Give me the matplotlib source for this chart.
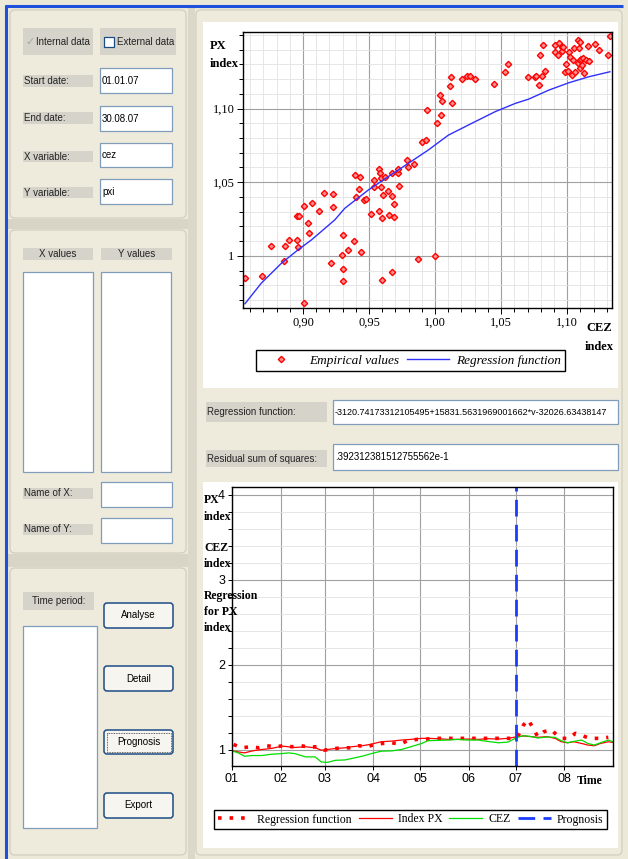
import matplotlib
matplotlib.use("Agg")
import matplotlib.pyplot as plt
from matplotlib.patches import Rectangle, FancyBboxPatch
from matplotlib.ticker import MultipleLocator, FixedLocator

# ---- scatter data (CEZ index vs PX index) ----
cez_emp = [0.856, 0.869, 0.8755, 0.8856, 0.8866, 0.8896, 0.8954, 0.8957, 0.8967, 0.8962,
           0.9005, 0.9005, 0.9038, 0.9043, 0.9066, 0.9121, 0.9159, 0.9215, 0.9225, 0.9230,
           0.9294, 0.9304, 0.9301, 0.9306, 0.9337, 0.9382, 0.9395, 0.9423, 0.9430, 0.9400,
           0.9440, 0.9458, 0.9473, 0.9514, 0.9534, 0.9537, 0.9575, 0.9577, 0.9582, 0.9587,
           0.9590, 0.9595, 0.9597, 0.9602, 0.9620, 0.9645, 0.9648, 0.9670, 0.9673, 0.9676,
           0.9688, 0.9691, 0.9716, 0.9721, 0.9724, 0.9787, 0.9797, 0.9838, 0.9868, 0.9901,
           0.9929, 0.9941, 1.0000, 1.0017, 1.0040, 1.0045, 1.0050, 1.0116, 1.0124, 1.0131,
           1.0202, 1.0240, 1.0268, 1.0304, 1.0443, 1.0532, 1.0552, 1.0707, 1.0760, 1.0767,
           1.0790, 1.0793, 1.0810, 1.0815, 1.0831, 1.0906, 1.0911, 1.0932, 1.0937, 1.0960,
           1.0962, 1.0972, 1.0988, 1.0982, 1.1008, 1.1015, 1.1025, 1.1038, 1.1043, 1.1053,
           1.1058, 1.1079, 1.1084, 1.1089, 1.1094, 1.1099, 1.1101, 1.1106, 1.1114, 1.1119,
           1.1127, 1.1144, 1.1160, 1.1167, 1.1208, 1.1238, 1.1309, 1.1324]
px_emp = [0.985, 0.986, 1.0068, 0.9968, 1.0066, 1.0108, 1.0108, 1.0273, 1.0273, 1.0059,
          1.0339, 0.9679, 1.0226, 1.0158, 1.0357, 1.0305, 1.0425, 0.9953, 1.0332, 1.0423,
          1.0007, 1.0142, 0.9910, 0.9826, 1.0041, 1.0102, 1.0547, 1.0456, 1.0538, 1.0398,
          1.0025, 1.0380, 1.0386, 1.0283, 1.0513, 1.0468, 1.0592, 1.0307, 1.0565, 1.0470,
          1.0529, 1.0260, 0.9835, 1.0411, 1.0533, 1.0441, 1.0276, 1.0409, 0.9889, 1.0563,
          1.0355, 1.0264, 1.0565, 1.0589, 1.0474, 1.0653, 1.0606, 1.0621, 0.9977, 1.0771,
          1.0786, 1.0988, 1.0000, 1.0904, 1.1094, 1.0954, 1.1051, 1.1153, 1.1216, 1.1035,
          1.1202, 1.1218, 1.1220, 1.1204, 1.1168, 1.1250, 1.1302, 1.1216, 1.1216, 1.1223,
          1.1159, 1.1365, 1.1218, 1.1431, 1.1252, 1.1433, 1.1381, 1.1365, 1.1442, 1.1417,
          1.1388, 1.1419, 1.1302, 1.1250, 1.1254, 1.1383, 1.1350, 1.1225, 1.1332, 1.1410,
          1.1248, 1.1464, 1.1311, 1.1412, 1.1273, 1.1332, 1.1451, 1.1336, 1.1298, 1.1345,
          1.1244, 1.1327, 1.1426, 1.1323, 1.1440, 1.1397, 1.1365, 1.1490]

cez_reg = [0.856, 0.8684, 0.8836, 0.8962, 0.9063, 0.9240, 0.9316, 0.9494, 0.9645, 0.9797,
           0.9949, 1.0101, 1.0278, 1.0455, 1.0607, 1.0708, 1.0860, 1.1012, 1.1164, 1.1324]
px_reg = [0.9675, 0.9815, 0.9950, 1.0041, 1.0108, 1.0244, 1.0323, 1.0447, 1.0538, 1.0628,
          1.0719, 1.0820, 1.0900, 1.0979, 1.1035, 1.1064, 1.1125, 1.1175, 1.1216, 1.1250]

# ---- time series (day of year 2007) ----
days = [0, 4, 8, 13, 19, 25, 32, 36, 40, 47, 53, 57, 61, 66, 72, 76, 83, 89, 95, 102,
        108, 114, 121, 125, 131, 138, 144, 150, 157, 163, 170, 176, 182, 186, 191, 195,
        201, 206, 210, 214, 218, 223, 227, 231, 235, 240, 243]
index_px = [0.988, 0.976, 0.964, 0.988, 1.004, 1.016, 1.044, 1.036, 1.028, 1.036, 1.024,
            0.996, 1.004, 1.016, 1.024, 1.036, 1.048, 1.067, 1.095, 1.103, 1.115, 1.123,
            1.135, 1.135, 1.131, 1.123, 1.123, 1.127, 1.123, 1.131, 1.127, 1.135, 1.155,
            1.163, 1.155, 1.147, 1.155, 1.135, 1.095, 1.083, 1.095, 1.075, 1.056, 1.048,
            1.075, 1.095, 1.087]
cez = [0.988, 0.964, 0.925, 0.933, 0.933, 0.948, 0.956, 0.964, 0.956, 0.917, 0.917,
       0.857, 0.853, 0.877, 0.881, 0.897, 0.925, 0.956, 0.984, 0.988, 1.004, 1.036,
       1.075, 1.107, 1.111, 1.115, 1.123, 1.115, 1.115, 1.099, 1.083, 1.091, 1.147,
       1.167, 1.155, 1.139, 1.151, 1.147, 1.107, 1.083, 1.099, 1.115, 1.075, 1.056,
       1.083, 1.115, 1.095]
reg_days = [1, 6, 12, 17, 22, 28, 34, 38, 44, 49, 54, 59, 64, 70, 75, 81, 86, 91, 96, 102,
            107, 112, 118, 123, 128, 134, 139, 144, 151, 156, 161, 166, 172, 177, 182, 186,
            189, 192, 195, 199, 204, 206, 210, 215, 219, 224, 228, 234, 240]
reg_px = [1.063, 1.024, 1.036, 1.024, 1.048, 1.036, 1.052, 1.036, 1.048, 1.032, 1.036,
          0.996, 1.012, 1.024, 1.024, 1.048, 1.036, 1.063, 1.075, 1.083, 1.067, 1.107,
          1.123, 1.123, 1.135, 1.135, 1.135, 1.135, 1.135, 1.135, 1.135, 1.135, 1.135,
          1.135, 1.147, 1.294, 1.353, 1.254, 1.155, 1.214, 1.234, 1.194, 1.135, 1.135,
          1.194, 1.163, 1.135, 1.135, 1.147]
prognosis_day = 181
month_starts = [0, 31, 59, 90, 120, 151, 181, 212]
month_labels = ["01", "02", "03", "04", "05", "06", "07", "08"]

W, H = 628, 859
BG = "#ECE9D8"
GRAYLBL = "#D6D3CB"
BOXEDGE = "#7F9DB9"
GUI_FONT = ["Liberation Sans Narrow", "Liberation Sans", "DejaVu Sans"]
SERIF = ["Liberation Serif", "DejaVu Serif"]
FS = 7.0

fig = plt.figure(figsize=(W / 100, H / 100), dpi=100, facecolor=BG)


def fax(x0, y0, x1, y1):
    return fig.add_axes([x0 / W, 1 - y1 / H, (x1 - x0) / W, (y1 - y0) / H])


def fpos(x, y):
    return x / W, 1 - y / H


# ---------- GUI background ----------
bg = fig.add_axes([0, 0, 1, 1])
bg.set_xlim(0, W)
bg.set_ylim(H, 0)
bg.axis("off")

bg.add_patch(Rectangle((0, 0), W, H, fc=BG, ec="none"))
bg.plot([5, 623], [5.5, 5.5], color="#1E50DC", lw=2.2, solid_capstyle="butt")
bg.plot([6, 6], [5, H], color="#1E50DC", lw=2.2, solid_capstyle="butt")

# separator bands between left panels
for y0, y1 in [(219, 229), (554, 567)]:
    bg.add_patch(Rectangle((8, y0), 180, y1 - y0, fc="#D9D5C6", ec="none"))
bg.add_patch(Rectangle((188, 8), 7, H - 8, fc="#DCD8C9", ec="none"))

for y0, y1 in [(10, 218), (230, 553), (568, 855)]:
    bg.add_patch(FancyBboxPatch((10, y0), 176, y1 - y0, boxstyle="round,pad=0,rounding_size=5",
                                fc="#EEEBDD", ec="#D0CCBC", lw=0.8))
bg.add_patch(FancyBboxPatch((196, 10), 426, 845, boxstyle="round,pad=0,rounding_size=5",
                            fc="#EEEBDD", ec="#D0CCBC", lw=0.8))
bg.add_patch(Rectangle((203, 22), 415, 366, fc="white", ec="none"))
bg.add_patch(Rectangle((203, 482), 415, 366, fc="white", ec="none"))


def label(x0, y0, x1, y1, txt, center=False):
    bg.add_patch(Rectangle((x0, y0), x1 - x0, y1 - y0, fc=GRAYLBL, ec="none"))
    if center:
        bg.text((x0 + x1) / 2, (y0 + y1) / 2, txt, ha="center", va="center",
                fontsize=FS, family=GUI_FONT, color="#222222")
    else:
        bg.text(x0 + 1, (y0 + y1) / 2, txt, ha="left", va="center",
                fontsize=FS, family=GUI_FONT, color="#222222")


def textbox(x0, y0, x1, y1, txt="", size=FS):
    r = Rectangle((x0, y0), x1 - x0, y1 - y0, fc="white", ec=BOXEDGE, lw=0.9)
    bg.add_patch(r)
    if txt:
        bg.text(x0 + 2, (y0 + y1) / 2 + 0.5, txt, ha="left", va="center",
                fontsize=size, family=GUI_FONT, color="black")


def button(x0, y0, x1, y1, txt, focus=False):
    bg.add_patch(FancyBboxPatch((x0, y0), x1 - x0, y1 - y0,
                                boxstyle="round,pad=0,rounding_size=3",
                                fc="#F6F5F0", ec="#1C4C86", lw=1.1))
    if focus:
        bg.add_patch(Rectangle((x0 + 2.5, y0 + 2.5), x1 - x0 - 5, y1 - y0 - 5,
                               fc="none", ec="#333333", lw=0.6, ls=(0, (1, 1))))
    bg.text((x0 + x1) / 2, (y0 + y1) / 2, txt, ha="center", va="center",
            fontsize=FS, family=GUI_FONT, color="black")


# checkboxes
bg.add_patch(Rectangle((23, 28), 70, 27, fc=GRAYLBL, ec="none"))
bg.add_patch(Rectangle((100, 28), 76, 27, fc=GRAYLBL, ec="none"))
bg.text(30, 42, "\u2713", ha="center", va="center", fontsize=8, family="DejaVu Sans", color="#A8A8A0")
bg.text(36, 42, "Internal data", ha="left", va="center", fontsize=FS, family=GUI_FONT, color="#222222")
bg.add_patch(Rectangle((104, 37), 10, 10, fc="white", ec="#1C4C86", lw=0.9))
bg.text(117, 42, "External data", ha="left", va="center", fontsize=FS, family=GUI_FONT, color="#222222")

label(23, 75, 93, 87, "Start date:")
textbox(100, 68, 172, 93, "01.01.07")
label(23, 112, 93, 124, "End date:")
textbox(100, 106, 172, 131, "30.08.07")
label(23, 151, 93, 162, "X variable:")
textbox(100, 143, 172, 167, "cez")
label(23, 187, 93, 198, "Y variable:")
textbox(100, 179, 172, 204, "pxi")

label(23, 248, 93, 260, "X values", center=True)
label(101, 248, 172, 260, "Y values", center=True)
textbox(23, 272, 93, 472)
textbox(101, 272, 171, 472)
label(23, 488, 93, 499, "Name of X:")
textbox(101, 482, 172, 507)
label(23, 524, 93, 535, "Name of Y:")
textbox(101, 518, 172, 543)

label(23, 592, 94, 610, "Time period:", center=True)
textbox(23, 626, 97, 828)
button(104, 603, 173, 628, "Analyse")
button(104, 666, 173, 691, "Detail")
button(104, 730, 173, 754, "Prognosis", focus=True)
button(104, 793, 173, 818, "Export")

label(206, 402, 327, 422, "Regression function:")
textbox(333, 400, 618, 424, "-3120.74173312105495+15831.5631969001662*v-32026.63438147", size=6.5)
label(206, 450, 327, 467, "Residual sum of squares:")
textbox(333, 444, 618, 470, ".392312381512755562e-1")

# ---------- chart 1: regression scatter ----------
ax1 = fax(243, 32, 612, 308)
ax1.set_xlim(0.8545, 1.134)
ax1.set_ylim(0.9646, 1.152)
ax1.xaxis.set_major_locator(FixedLocator([0.90, 0.95, 1.00, 1.05, 1.10]))
ax1.set_xticklabels(["0,90", "0,95", "1,00", "1,05", "1,10"])
ax1.yaxis.set_major_locator(FixedLocator([1.0, 1.05, 1.10]))
ax1.set_yticklabels(["1", "1,05", "1,10"])
ax1.xaxis.set_minor_locator(MultipleLocator(0.01))
ax1.yaxis.set_minor_locator(MultipleLocator(0.01))
ax1.grid(which="major", color="#A0A0A0", lw=0.8)
ax1.grid(which="minor", color="#E2E2E2", lw=0.6)
ax1.set_axisbelow(True)
ax1.tick_params(which="both", direction="out", length=3, width=0.7, labelsize=9, pad=2)
ax1.tick_params(which="major", length=4)
for lab in ax1.get_xticklabels() + ax1.get_yticklabels():
    lab.set_family(SERIF)
for s in ax1.spines.values():
    s.set_linewidth(1.0)
emp = ax1.plot(cez_emp, px_emp, ls="none", marker="D", ms=3.2, mfc="#FF9090",
               mec="#FF0000", mew=1.0, label="Empirical values")[0]
reg = ax1.plot(cez_reg, px_reg, color="#3030FF", lw=1.0, label="Regression function")[0]
ax1.legend(handles=[emp, reg], loc="center", bbox_to_anchor=fpos(410.5, 360.5),
           bbox_transform=fig.transFigure, ncol=2, frameon=True, fancybox=False,
           edgecolor="black", framealpha=1, borderpad=0.3, handlelength=3.2,
           columnspacing=0.6, handletextpad=0.5,
           prop={"family": SERIF, "style": "italic", "size": 9.5})
fig.text(*fpos(210, 46), "PX", fontsize=9, weight="bold", family=SERIF, va="center")
fig.text(*fpos(210, 64), "index", fontsize=9, weight="bold", family=SERIF, va="center")
fig.text(*fpos(586, 328), "CEZ", fontsize=9, weight="bold", family=SERIF, va="center")
fig.text(*fpos(585, 347), "index", fontsize=9, weight="bold", family=SERIF, va="center")

# ---------- chart 2: time series and prognosis ----------
ax2 = fax(232, 487, 613, 766)
ax2.set_xlim(0, 243)
ax2.set_ylim(0.81, 4.09)
ax2.xaxis.set_major_locator(FixedLocator(month_starts))
ax2.set_xticklabels(month_labels)
ax2.yaxis.set_major_locator(FixedLocator([1, 2, 3, 4]))
ax2.yaxis.set_minor_locator(MultipleLocator(0.2))
ax2.grid(which="major", color="#A0A0A0", lw=0.8)
ax2.grid(which="minor", axis="y", color="#E2E2E2", lw=0.6)
ax2.set_axisbelow(True)
ax2.tick_params(which="both", direction="out", length=3, width=0.7, labelsize=9, pad=2)
for lab in ax2.get_xticklabels() + ax2.get_yticklabels():
    lab.set_family(GUI_FONT)
for s in ax2.spines.values():
    s.set_linewidth(1.0)
h_reg = ax2.plot(reg_days, reg_px, color="#FF0000", lw=2.6, ls=(0, (1, 2.2)),
                 label="Regression function")[0]
h_px = ax2.plot(days, index_px, color="#FF0000", lw=0.9, label="Index PX")[0]
h_cez = ax2.plot(days, cez, color="#00DD00", lw=0.9, label="CEZ")[0]
h_pr = ax2.axvline(prognosis_day, color="#1A3CFF", lw=2.0, ls=(0, (6, 3)), label="Prognosis")
ax2.legend(handles=[h_reg, h_px, h_cez, h_pr], loc="center", bbox_to_anchor=fpos(410.5, 819.5),
           bbox_transform=fig.transFigure, ncol=4, frameon=True, fancybox=False,
           edgecolor="black", framealpha=1, borderpad=0.3, handlelength=2.8,
           columnspacing=0.6, handletextpad=0.5,
           prop={"family": SERIF, "size": 8.5})
for yy, txt in [(500, "PX"), (517, "index"), (548, "CEZ"), (564, "index"),
                (596, "Regression"), (612, "for PX"), (628, "index")]:
    fig.text(*fpos(204, yy), txt, fontsize=8.5, weight="bold", family=SERIF, va="center")
fig.text(*fpos(577, 781), "Time", fontsize=8.5, weight="bold", family=SERIF, va="center")

fig.savefig("out.png", dpi=100, facecolor=BG)
